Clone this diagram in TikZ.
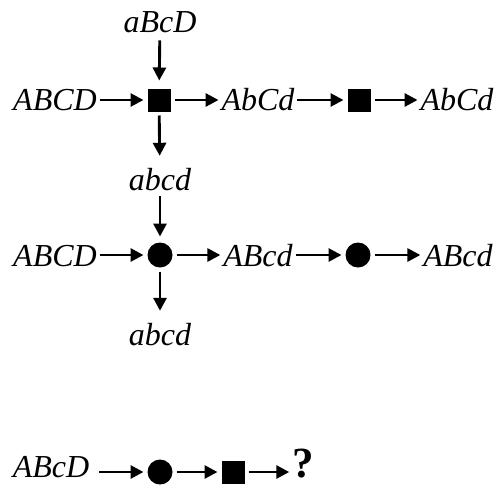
\documentclass[tikz,border=0pt]{standalone}
\usepackage{fontspec}
\setmainfont{Liberation Serif}
\usetikzlibrary{arrows.meta}
\begin{document}
\begin{tikzpicture}[x=1pt,y=-1pt,
 lbl/.style={font=\fontsize{32}{36}\selectfont\itshape, inner sep=0pt, outer sep=3pt, anchor=base},
 qlbl/.style={font=\fontsize{43}{48}\selectfont\bfseries, inner sep=0pt, outer sep=3pt, anchor=base},
 sq/.style={fill=black, minimum size=23pt, inner sep=0pt, outer sep=4pt},
 dot/.style={circle, fill=black, minimum size=25pt, inner sep=0pt, outer sep=4pt},
 arr/.style={line width=2.9pt, -{Triangle[length=13pt,width=13pt]}}]
\useasboundingbox (0,0) rectangle (502,487);
% row 1
\node[lbl] (r1a) at (55,110) {ABCD};
\node[sq] (s1) at (159,100) {};
\node[lbl] (r1b) at (258,110) {AbCd};
\node[sq] (s2) at (359,100) {};
\node[lbl] (r1c) at (457,110) {AbCd};
\node[lbl] (top) at (160,33) {aBcD};
\node[lbl] (mid) at (160,190) {abcd};
% row 2
\node[lbl] (r2a) at (55,266) {ABCD};
\node[dot] (c1) at (160,255) {};
\node[lbl] (r2b) at (258,266) {ABcd};
\node[dot] (c2) at (358,255) {};
\node[lbl] (r2c) at (458,266) {ABcd};
\node[lbl] (bot) at (160,345) {abcd};
% row 3
\node[lbl] (r3a) at (51,477) {ABcD};
\node[dot] (c3) at (160,472) {};
\node[sq] (s3) at (233,472) {};
\node[qlbl] (q) at (303,477) {?};
% row 1 arrows
\draw[arr] (r1a.east |- s1) -- (s1.west);
\draw[arr] (s1.east) -- (r1b.west |- s1);
\draw[arr] (r1b.east |- s2) -- (s2.west);
\draw[arr] (s2.east) -- (r1c.west |- s2);
\draw[arr, shorten <=4pt, shorten >=4pt] (top) -- (s1);
\draw[arr, shorten >=9pt] (s1) -- (mid);
\draw[arr, shorten <=3pt, shorten >=2pt] (mid) -- (c1);
% row 2 arrows
\draw[arr] (r2a.east |- c1) -- (c1.west);
\draw[arr] (c1.east) -- (r2b.west |- c1);
\draw[arr] (r2b.east |- c2) -- (c2.west);
\draw[arr] (c2.east) -- (r2c.west |- c2);
\draw[arr, shorten >=9pt] (c1) -- (bot);
% row 3 arrows
\draw[arr, shorten <=7pt] (r3a.east |- c3) -- (c3.west);
\draw[arr] (c3) -- (s3);
\draw[arr] (s3.east) -- (q.west |- s3);
\end{tikzpicture}
\end{document}
